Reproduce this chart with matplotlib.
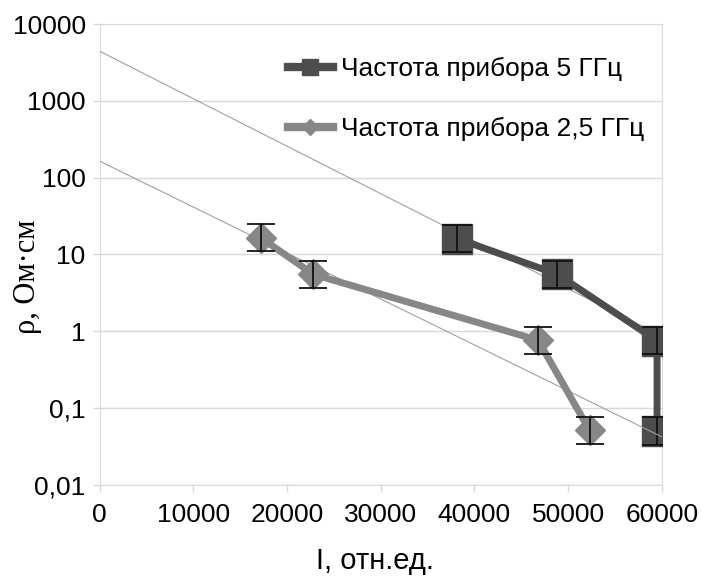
import matplotlib.pyplot as plt
from matplotlib.lines import Line2D
from matplotlib.ticker import FixedLocator, FuncFormatter, NullLocator

plt.rcParams['font.family'] = ['Liberation Sans', 'DejaVu Sans']

# data
I_5 = [38200, 48850, 59500, 59500]
rho_5 = [16.0, 5.5, 0.75, 0.05]
rho_5_lo = [10.7, 3.67, 0.5, 0.033]
rho_5_hi = [24.0, 8.25, 1.12, 0.075]

I_25 = [17200, 22800, 46800, 52300]
rho_25 = [16.5, 5.5, 0.76, 0.051]
rho_25_lo = [11.0, 3.67, 0.51, 0.034]
rho_25_hi = [24.8, 8.3, 1.14, 0.077]

# exponential trend lines (end points)
trend_x = [0, 60000]
trend_5 = [4430, 0.86]
trend_25 = [164, 0.042]

y_ticks = [0.01, 0.1, 1, 10, 100, 1000, 10000]
x_ticks = [0, 10000, 20000, 30000, 40000, 50000, 60000]

label_5 = 'Частота прибора 5 ГГц'
label_25 = 'Частота прибора 2,5 ГГц'

c5 = '#4d4d4d'
c25 = '#878787'

fig = plt.figure(figsize=(7.01, 5.79), dpi=100)
ax = fig.add_axes([0.142, 0.163, 0.802, 0.7955])

ax.set_yscale('log')
ax.set_xlim(0, 60000)
ax.set_ylim(0.01, 10000)

# trend lines
ax.plot(trend_x, trend_5, color='#a0a0a0', lw=0.8, zorder=2)
ax.plot(trend_x, trend_25, color='#a0a0a0', lw=0.8, zorder=4)

# 5 GHz
ax.plot(I_5, rho_5, color=c5, lw=5, marker='s', ms=21, mec=c5, mfc=c5, zorder=3)
err5 = [[r - lo for r, lo in zip(rho_5, rho_5_lo)], [hi - r for r, hi in zip(rho_5, rho_5_hi)]]
ax.errorbar(I_5, rho_5, yerr=err5, fmt='none', ecolor='#111111', elinewidth=1.3,
            capsize=10.5, capthick=1.3, zorder=3.5)

# 2.5 GHz
ax.plot(I_25, rho_25, color=c25, lw=5, marker='D', ms=15, mec=c25, mfc=c25, zorder=5)
err25 = [[r - lo for r, lo in zip(rho_25, rho_25_lo)], [hi - r for r, hi in zip(rho_25, rho_25_hi)]]
ax.errorbar(I_25, rho_25, yerr=err25, fmt='none', ecolor='#111111', elinewidth=1.3,
            capsize=10, capthick=1.3, zorder=6)

# axes styling
ax.yaxis.set_major_locator(FixedLocator(y_ticks))
ax.yaxis.set_minor_locator(NullLocator())
ax.yaxis.set_major_formatter(FuncFormatter(lambda v, p: ('%g' % v).replace('.', ',')))
ax.set_xticks(x_ticks)
ax.set_xticklabels([str(t) for t in x_ticks])
ax.grid(axis='y', color='#d9d9d9', lw=1)
ax.set_axisbelow(True)
for s in ax.spines.values():
    s.set_color('#d9d9d9')
    s.set_zorder(0.5)
ax.tick_params(axis='both', colors='#d9d9d9', labelcolor='black', labelsize=19,
               length=5, width=1)
ax.tick_params(axis='x', pad=8)
ax.tick_params(axis='y', pad=5)

fig.text(0.039, 1 - 277 / 579, 'ρ, Ом·см', rotation=90, ha='center', va='center',
         fontsize=22, family=['Liberation Serif', 'DejaVu Serif'])
fig.text(0.535, 1 - 561 / 579, 'I, отн.ед.', ha='center', va='center', fontsize=21)

handles = [
    Line2D([], [], color=c5, lw=6, marker='s', ms=11, mfc=c5, mec=c5),
    Line2D([], [], color=c25, lw=6, marker='D', ms=8, mfc=c25, mec=c25),
]
ax.legend(handles, [label_5, label_25], loc='upper left', bbox_to_anchor=(0.293, 0.979),
          frameon=False, fontsize=19, handlelength=1.7, handletextpad=0.3,
          labelspacing=1.35)

fig.savefig('out.png', dpi=100)
